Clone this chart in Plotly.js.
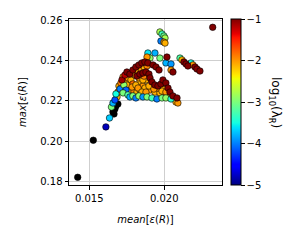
<!DOCTYPE html>
<html>
<head>
<meta charset="utf-8">
<script src="https://cdn.plot.ly/plotly-3.0.1.min.js"></script>
<style>html,body{margin:0;padding:0;background:#fff;}#chart{width:300px;height:240px;}</style>
</head>
<body>
<div id="chart"></div>
<script>
// colored points: mean[eps(R)], max[eps(R)], log10(lambda_R)
const meanEps = [
  0.01611,0.01635,0.01648,0.01658,
  0.01685,0.01691,0.01698,0.01711,0.01725,0.01745,0.01765,0.01778,0.01798,0.01818,
  0.01758,0.01778,0.01791,0.01805,0.01825,0.01845,0.01865,0.01885,0.01838,0.01858,0.01838,
  0.01871,0.01905,0.01938,0.01971,0.02005,0.02025,0.01878,0.01918,0.01958,0.01991,0.02078,0.02091,
  0.01738,0.01751,0.01785,0.01811,0.01825,0.01851,0.01878,0.01898,0.01931,0.01985,0.02011,0.01831,0.01858,0.01865,
  0.01671,0.01678,0.01705,0.01731,0.01745,0.01725,0.01758,0.01771,0.01791,0.01811,0.01831,0.01858,
  0.01885,0.01918,0.01951,0.01985,0.02011,0.02045,0.01891,0.01938,0.01905,0.01971,0.02011,0.02045,
  0.01971,0.01985,0.01998,0.02005,0.01978,0.02105,0.02178,
  0.01998,0.02005,0.02045,0.02118,0.02191,0.01885,
  0.01718,0.01738,0.01751,0.01771,0.01791,0.01811,0.01831,0.01851,0.01871,0.01891,
  0.01818,0.01838,0.01858,0.01878,0.01898,0.01905,0.01918,0.01938,0.01958,0.01978,0.01991,
  0.01925,0.01945,0.01965,0.02018,0.02058,0.02011,0.02025,0.02038,0.02058,0.02085,
  0.02131,0.02145,0.02158,0.02205,0.02218,0.02238,0.02323
];
const maxEps = [
  0.2072,0.2116,0.2170,0.2190,
  0.2220,0.2244,0.2274,0.2289,0.2319,0.2294,0.2274,0.2254,0.2249,0.2244,
  0.2314,0.2304,0.2284,0.2328,0.2343,0.2358,0.2368,0.2373,0.2294,0.2274,0.2254,
  0.2264,0.2254,0.2244,0.2240,0.2230,0.2220,0.2304,0.2274,0.2264,0.2259,0.2195,0.2190,
  0.2264,0.2279,0.2269,0.2279,0.2264,0.2244,0.2244,0.2274,0.2259,0.2249,0.2244,0.2314,0.2304,0.2323,
  0.2205,0.2235,0.2259,0.2279,0.2254,0.2240,0.2230,0.2220,0.2225,0.2215,0.2225,0.2220,
  0.2220,0.2215,0.2210,0.2215,0.2215,0.2210,0.2437,0.2437,0.2412,0.2412,0.2388,0.2383,
  0.2541,0.2531,0.2521,0.2511,0.2496,0.2412,0.2388,
  0.2491,0.2486,0.2353,0.2403,0.2378,0.2417,
  0.2304,0.2328,0.2343,0.2333,0.2353,0.2368,0.2378,0.2388,0.2393,0.2388,
  0.2323,0.2333,0.2338,0.2343,0.2333,0.2314,0.2294,0.2279,0.2274,0.2284,0.2304,
  0.2378,0.2368,0.2353,0.2417,0.2343,0.2289,0.2264,0.2244,0.2225,0.2215,
  0.2393,0.2383,0.2373,0.2368,0.2358,0.2348,0.2564
];
const logLambda = [
  -4.8,-3.7,-3.0,-3.8,
  -2.1,-2.0,-2.1,-1.9,-2.0,-2.1,-2.0,-2.1,-1.9,-2.1,
  -2.0,-2.1,-1.8,-2.0,-2.1,-2.0,-2.1,-1.9,-2.1,-2.0,-2.2,
  -2.1,-2.0,-2.1,-2.1,-2.0,-2.1,-2.1,-2.0,-1.9,-2.1,-2.1,-2.0,
  -2.0,-2.1,-2.0,-2.1,-2.0,-2.1,-2.0,-2.1,-2.0,-2.1,-2.0,-2.0,-2.1,-1.9,
  -4.2,-3.5,-4.0,-2.9,-4.1,-3.0,-3.2,-3.8,-3.0,-4.0,-2.9,-3.9,
  -3.0,-3.3,-4.0,-3.0,-2.9,-3.4,-3.6,-3.8,-2.9,-3.0,-3.8,-3.9,
  -2.8,-3.3,-3.1,-2.8,-4.0,-3.2,-3.5,
  -2.0,-2.1,-2.0,-2.1,-2.0,-2.0,
  -1.1,-1.2,-1.0,-1.0,-1.0,-1.0,-1.0,-1.0,-1.0,-1.0,
  -1.0,-1.0,-1.0,-1.0,-1.0,-1.0,-1.0,-1.0,-1.0,-1.0,-1.0,
  -1.0,-1.0,-1.0,-1.0,-1.0,-1.0,-1.0,-1.0,-1.0,-1.0,
  -1.0,-1.0,-1.0,-1.0,-1.0,-1.0,-1.0
];
// points with lambda_R = 0 (drawn black)
const meanEpsZero = [0.01423,0.01527,0.01658,0.01671,0.01678,0.01691,0.01665];
const maxEpsZero  = [0.1823,0.2006,0.2146,0.2160,0.2175,0.2185,0.2136];

const xTicks = [0.015, 0.020];
const yTicks = [0.18, 0.20, 0.22, 0.24, 0.26];
const cTicks = [-5, -4, -3, -2, -1];

const jet = [
  [0.0,'rgb(0,0,128)'],[0.11,'rgb(0,0,255)'],[0.125,'rgb(0,0,255)'],
  [0.34,'rgb(0,219,255)'],[0.35,'rgb(0,230,247)'],[0.375,'rgb(21,255,226)'],
  [0.64,'rgb(239,255,8)'],[0.65,'rgb(247,246,0)'],[0.66,'rgb(255,236,0)'],
  [0.89,'rgb(255,19,0)'],[0.91,'rgb(232,0,0)'],[1.0,'rgb(128,0,0)']
];

const font = {family:'DejaVu Sans', size:10, color:'black'};

const traces = [
  {x:meanEpsZero, y:maxEpsZero, type:'scatter', mode:'markers', showlegend:false,
   marker:{size:6.5, color:'black', line:{width:0.6, color:'black'}}},
  {x:meanEps, y:maxEps, type:'scatter', mode:'markers', showlegend:false,
   marker:{size:6.5, color:logLambda, colorscale:jet, cmin:-5, cmax:-1,
     line:{width:0.6, color:'black'}, showscale:true,
     colorbar:{x:1.057, xanchor:'left', xref:'paper', y:0.5, yanchor:'middle',
       len:1, lenmode:'fraction', thickness:9.5, thicknessmode:'pixels',
       outlinewidth:1, outlinecolor:'black', ticks:'outside', ticklen:3.5,
       tickcolor:'black', tickvals:cTicks, tickfont:font, xpad:0, ypad:0}}}
];

const layout = {
  width:300, height:240, margin:{l:69, r:78, t:19, b:55},
  paper_bgcolor:'white', plot_bgcolor:'white', font:font,
  xaxis:{range:[0.01365,0.02385], tickvals:xTicks, tickformat:'.3f',
    showgrid:true, gridcolor:'#cfcfcf', gridwidth:1, zeroline:false,
    showline:true, linecolor:'black', linewidth:1, mirror:true,
    ticks:'outside', ticklen:3.5, tickcolor:'black', tickfont:font,
    title:{text:'<i>mean</i>[<i>ε</i>(<i>R</i>)]', font:font, standoff:13}},
  yaxis:{range:[0.1785,0.2605], tickvals:yTicks, tickformat:'.2f',
    showgrid:true, gridcolor:'#cfcfcf', gridwidth:1, zeroline:false,
    showline:true, linecolor:'black', linewidth:1, mirror:true,
    ticks:'outside', ticklen:3.5, tickcolor:'black', tickfont:font,
    title:{text:'<i>max</i>[<i>ε</i>(<i>R</i>)]', font:font, standoff:11}},
  annotations:[{xref:'paper', yref:'paper', x:(275-69)/153, y:0.5,
    xanchor:'center', yanchor:'middle', showarrow:false, textangle:90,
    text:'log<sub>10</sub>(λ<sub>R</sub>)', font:{family:'DejaVu Sans', size:12, color:'black'}}]
};

Plotly.newPlot('chart', traces, layout, {displayModeBar:false, staticPlot:true});
</script>
</body>
</html>
